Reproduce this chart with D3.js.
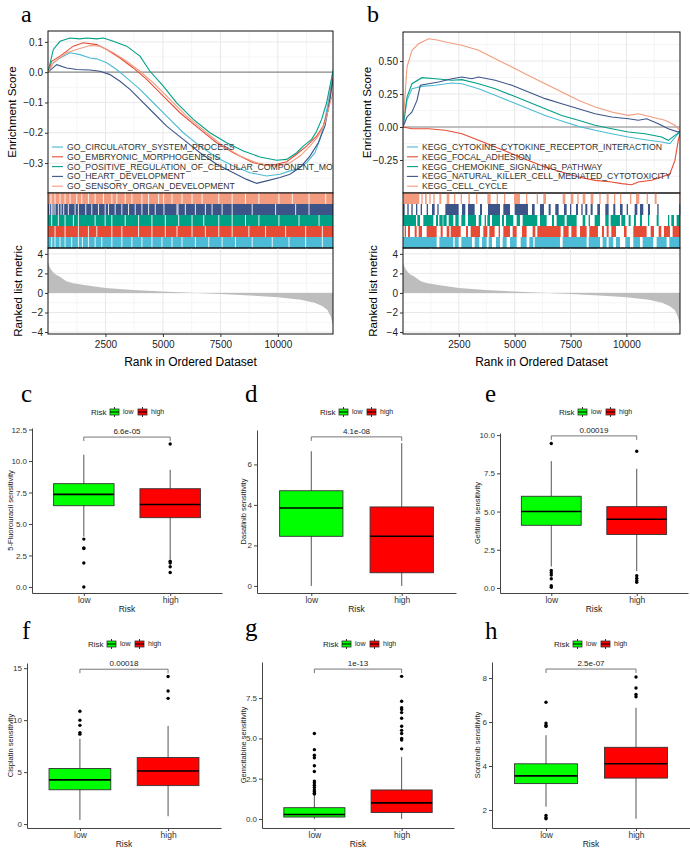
<!DOCTYPE html>
<html>
<head>
<meta charset="utf-8">
<script src="https://cdn.jsdelivr.net/npm/d3@7"></script>
<style>
body{margin:0;background:#fff;}
svg text{font-family:"Liberation Sans",Arial,sans-serif;}
svg text.tag{font-family:"Liberation Serif","Times New Roman",serif;}
</style>
</head>
<body>
<div id="chart"></div>
<script>
// ---------- data ----------
var maxRank = 12400;
var rankTicks = [2500, 5000, 7500, 10000];
var rankMinor = [1250, 3750, 6250, 8750, 11250];

// ranked list metric (rank, value)
var rankedMetric = [[0,3.1],[80,2.6],[160,2.3],[300,1.95],[520,1.65],[800,1.2],[1100,1.0],[1500,0.83],
  [2500,0.5],[3700,0.3],[5000,0.14],[6200,0.02],[7500,-0.1],[8800,-0.25],[10000,-0.44],[11000,-0.7],
  [11600,-1.0],[11950,-1.35],[12160,-1.75],[12300,-2.4],[12400,-3.3]];

var setColors = ["#4DBBD5", "#E64B35", "#00A087", "#3C5488", "#F39B7F"];

// panel a: GO gene sets
var goNames = ["GO_CIRCULATORY_SYSTEM_PROCESS", "GO_EMBRYONIC_MORPHOGENESIS",
  "GO_POSITIVE_REGULATION_OF_CELLULAR_COMPONENT_MOVEMENT", "GO_HEART_DEVELOPMENT",
  "GO_SENSORY_ORGAN_DEVELOPMENT"];
var goCirc = [[0,0],[232,0.031],[522,0.047],[957,0.064],[1392,0.058],[1827,0.047],[2117,0.044],[2552,0.031],
  [2987,0.009],[3422,-0.019],[4002,-0.057],[4582,-0.101],[5162,-0.145],[5887,-0.2],[6612,-0.244],[7337,-0.282],
  [8062,-0.31],[8787,-0.332],[9512,-0.343],[10092,-0.337],[10527,-0.326],[10817,-0.321],[11252,-0.299],
  [11615,-0.266],[11832,-0.222],[12050,-0.156],[12267,-0.068],[12400,0.009]];
var goEmbryo = [[0,0],[160,0.036],[522,0.053],[1102,0.086],[1537,0.097],[2117,0.091],[2552,0.075],[3132,0.047],
  [3712,0.014],[4292,-0.024],[5017,-0.079],[5742,-0.134],[6612,-0.189],[7337,-0.233],[8062,-0.266],[8932,-0.299],
  [9512,-0.307],[9947,-0.304],[10382,-0.296],[10817,-0.271],[11252,-0.244],[11687,-0.211],[11977,-0.178],
  [12195,-0.123],[12340,-0.046],[12400,-0.019]];
var goPosReg = [[0,0],[232,0.075],[522,0.102],[957,0.113],[1392,0.11],[1682,0.113],[2117,0.11],[2407,0.113],
  [2842,0.102],[3422,0.086],[4002,0.053],[4437,0.003],[5017,-0.046],[5597,-0.101],[6322,-0.156],[7047,-0.2],
  [7772,-0.233],[8497,-0.26],[9222,-0.28],[9947,-0.291],[10382,-0.288],[10817,-0.266],[11107,-0.244],
  [11470,-0.222],[11687,-0.195],[11905,-0.156],[12122,-0.101],[12267,-0.046],[12400,0.003]];
var goHeart = [[0,0],[377,0.025],[812,0.014],[1247,0.009],[1827,0.007],[2262,0.003],[2697,-0.008],[3132,-0.03],
  [3567,-0.057],[4002,-0.09],[4582,-0.134],[5162,-0.178],[5887,-0.222],[6612,-0.266],[7337,-0.304],[8062,-0.332],
  [8642,-0.354],[9077,-0.367],[9512,-0.359],[10092,-0.348],[10527,-0.337],[10962,-0.315],[11397,-0.277],
  [11760,-0.233],[12050,-0.178],[12267,-0.09],[12400,-0.024]];
var goSensory = [[0,0],[232,0.031],[812,0.064],[1247,0.075],[1827,0.088],[2262,0.086],[2842,0.064],[3422,0.036],
  [4002,0.003],[4582,-0.035],[5307,-0.09],[6032,-0.145],[6902,-0.2],[7627,-0.244],[8352,-0.277],[9077,-0.299],
  [9657,-0.31],[10092,-0.308],[10527,-0.299],[10962,-0.277],[11397,-0.244],[11760,-0.211],[12050,-0.167],
  [12238,-0.112],[12400,-0.068]];

// panel a barcodes: ranks where the (dense) hit band shows a gap
var goCircGaps = [160,305,523,742,1032,1323,1498,1759,2050,2341,2777,3213,3650,4086,4522,4958,5394,5831,6412,6994,7575,8157,8884,9757,10484,11210,11937];
var goEmbryoGaps = [305,742,1323,1759,2123,2777,3213,3940,4522,5104,5612,6267,6848,7430,8012,8739,9466,10338,11210,11937];
var goPosRegGaps = [160,451,742,1105,1323,2050,2486,2777,3359,3940,4522,5104,5685,6267,6776,7430,8012,8593,9175,10047,10920,11792];
var goHeartGaps = [73,160,218,305,451,567,683,887,1178,1323,1643,1905,2196,2486,2632,2923,3213,3504,3795,4086,4377,4667,5045,5612,5656,5976,6412,6848,7139,7575,8012,8884,9902,10774,11356];
var goSensoryGaps = [131,305,523,742,960,1250,1469,1759,2050,2414,2777,2995,3359,3650,4086,4377,4813,5031,5394,5831,6267,6703,7430,8012,8593,9175,10047,10629,11356,12083];

// panel b: KEGG gene sets
var keggNames = ["KEGG_CYTOKINE_CYTOKINE_RECEPTOR_INTERACTION", "KEGG_FOCAL_ADHESION",
  "KEGG_CHEMOKINE_SIGNALING_PATHWAY", "KEGG_NATURAL_KILLER_CELL_MEDIATED_CYTOTOXICITY", "KEGG_CELL_CYCLE"];
var keggCytokine = [[0,0],[179,0.202],[402,0.29],[849,0.308],[1445,0.316],[2190,0.333],[2637,0.328],[3382,0.29],
  [4127,0.24],[4872,0.189],[5617,0.139],[6362,0.088],[7107,0.045],[7852,0.005],[8597,-0.025],[9342,-0.051],
  [10087,-0.076],[10832,-0.096],[11577,-0.114],[11950,-0.126],[12248,-0.063],[12400,-0.038]];
var keggFocal = [[0,0],[402,-0.013],[1147,-0.013],[1892,-0.025],[2637,-0.051],[3382,-0.101],[4127,-0.152],
  [4872,-0.202],[5617,-0.253],[6362,-0.303],[7107,-0.341],[7852,-0.379],[8597,-0.404],[9342,-0.417],
  [9789,-0.429],[10236,-0.437],[10534,-0.417],[11130,-0.404],[11577,-0.379],[11950,-0.354],[12173,-0.253],
  [12322,-0.101],[12400,-0.051]];
var keggChemokine = [[0,0],[179,0.227],[402,0.328],[849,0.374],[1445,0.366],[2190,0.354],[2637,0.359],[3382,0.328],
  [4127,0.29],[4872,0.24],[5617,0.189],[6362,0.139],[7107,0.088],[7852,0.051],[8597,0.013],[9342,-0.013],
  [10087,-0.038],[10832,-0.051],[11577,-0.076],[11875,-0.101],[12173,-0.063],[12400,-0.038]];
var keggNK = [[0,0],[179,0.076],[402,0.114],[626,0.202],[775,0.316],[1147,0.328],[1594,0.341],[2190,0.366],
  [2637,0.379],[3084,0.366],[3382,0.379],[4127,0.354],[4872,0.316],[5617,0.265],[6362,0.215],[7107,0.177],
  [7852,0.139],[8597,0.101],[9342,0.076],[10087,0.063],[10534,0.051],[10907,0.063],[11428,0.025],
  [11875,-0.013],[12322,-0.038],[12400,-0.025]];
var keggCellCycle = [[0,0],[75,0.202],[179,0.455],[402,0.581],[700,0.631],[1147,0.669],[1594,0.657],[1892,0.644],
  [2637,0.619],[3382,0.581],[4127,0.518],[4872,0.455],[5617,0.391],[6362,0.328],[7107,0.265],[7852,0.202],
  [8597,0.152],[9342,0.114],[10087,0.088],[10534,0.101],[11130,0.076],[11726,0.051],[12173,0.013],[12400,-0.025]];

// panel b barcodes: runs of hits [from, to] in rank
var keggCytokineHits = [[0,1507],[1626,2253],[2313,2492],[2611,3088],[3208,3417],[3536,3745],[3834,3984],[4163,4342],
  [4461,4640],[4789,5088],[5267,5535],[5655,5834],[5893,7027],[7147,8221],[8310,8818],[8937,9116],[9206,9414],
  [9534,9713],[9951,10160],[10310,10608],[10728,11205],[11354,11802],[11921,12400]];
var keggFocalHits = [[75,134],[224,313],[522,612],[701,850],[1059,1507],[1686,1776],[1955,2074],[2134,2581],
  [2820,2909],[3029,3447],[3596,3775],[3864,4103],[4282,4342],[4491,4789],[4909,5088],[5326,5535],[5804,5923],
  [6013,7057],[7177,7415],[7535,7773],[7922,8221],[8340,8728],[8907,8997],[9116,9206],[9325,9534],[9892,10011],
  [10310,10907],[11086,11235],[11444,11563],[11682,11951],[12070,12400]];
var keggChemokineHits = [[0,582],[642,761],[910,1358],[1477,1567],[1626,1776],[1805,1955],[2044,2253],[2342,2492],
  [2611,2790],[2909,3267],[3387,3506],[3655,3715],[3775,3894],[3984,4342],[4431,4521],[4610,4939],[5088,5237],
  [5356,6013],[6132,6431],[6669,6759],[6878,7236],[7326,7773],[8042,8161],[8310,8370],[8579,8818],[9056,9206],
  [9295,9713],[9772,9951],[10101,10190],[10339,10429],[10608,10698],[10966,11026],[11354,11444],[11861,11921],
  [12011,12130],[12250,12400]];
var keggNKHits = [[0,75],[194,254],[373,433],[582,642],[791,850],[1059,1119],[1298,1417],[1537,1596],[1895,2492],
  [2641,2790],[2909,3208],[3447,3536],[3805,4342],[4491,4789],[4998,5595],[5774,5893],[6132,6311],[6520,6610],
  [6818,6968],[7206,7326],[7475,7535],[7743,7833],[7982,8042],[8161,8251],[8400,8490],[8698,8818],[9056,9206],
  [9414,9504],[9713,9832],[10011,10071],[10369,10489],[10608,10757],[10966,11056],[11384,11444],[12369,12400]];
var keggCellCycleHits = [[0,731],[821,880],[985,1059],[1179,1238],[1358,1417],[1626,1716],[1955,2074],[2283,2342],
  [2581,2641],[2924,2999],[3267,3327],[3775,3924],[4193,4252],[4521,4580],[4968,5237],[5506,5565],[5983,6043],
  [6281,6401],[7147,7266],[7505,7624],[7803,7863],[8042,8161],[8400,8519],[8788,8848],[9116,9206],[9444,9504],
  [9713,9772],[10160,10220],[10429,10578],[10906,10966],[11265,11354],[12369,12400]];

// drug sensitivity boxplots: [lower whisker, Q1, median, Q3, upper whisker]
var riskGroups = ["low", "high"];
var riskColors = ["#00FF00", "#FF0000"];
var drugNames = ["5-Fluorouracil", "Dasatinib", "Gefitinib", "Cisplatin", "Gemcitabine", "Sorafenib"];
var pValues = ["6.6e-05", "4.1e-08", "0.00019", "0.00018", "1e-13", "2.5e-07"];
var bracketY = [11.9, 7.36, 9.95, 14.9, 9.3, 8.41];
var lowStats = [[4.0,6.45,7.35,8.2,10.5],[0,2.45,3.85,4.7,6.65],[1.4,4.1,5.0,6.0,8.3],
  [0.4,3.3,4.25,5.35,8.2],[0,0.12,0.28,0.7,1.45],[2.15,3.2,3.55,4.1,5.4]];
var highStats = [[2.2,5.5,6.55,7.8,9.3],[0,0.65,2.45,3.9,7.05],[1.1,3.5,4.5,5.32,7.8],
  [0.75,3.7,5.1,6.4,9.45],[0,0.4,1.0,1.8,3.85],[1.6,3.45,4.1,4.85,6.65]];
var lowOutliers = [[3.8,3.1,3.05,1.9,0],[],[9.45,1.15,1.0,0.85,0.6,0.15,0.05],
  [10.85,10.0,9.5,8.8,8.65],[5.3,4.3,3.95,3.8,3.3,2.95,2.35,2.25,2.1,1.95,1.8,1.7,1.6,1.55],
  [6.9,5.95,5.85,5.8,1.75,1.65,1.6]];
var highOutliers = [[11.35,2.05,1.9,1.6,1.15],[],[8.95,0.8,0.63,0.48,0.37],[14.2,12.8,12.1],
  [8.85,7.3,6.9,6.8,6.6,6.25,5.75,5.5,5.3,5.0,4.9,4.35],[8.05,7.55,7.25,7.15]];
var yTicks = [[0,2.5,5,7.5,10,12.5],[0,2,4,6],[0,2.5,5,7.5,10],[0,5,10,15],[0,2.5,5,7.5],[2,4,6,8]];
var yDomains = [[-0.48,12.62],[-0.35,7.7],[-0.33,10.14],[-0.38,15.5],[-0.56,9.74],[1.18,8.73]];

// ---------- drawing ----------
var svg = d3.select("#chart").append("svg").attr("width", 690).attr("height", 848);

function grid(g, x, y, xv, yv, col, w) {
  g.selectAll(null).data(xv).enter().append("line")
    .attr("x1", function(d){return x(d);}).attr("x2", function(d){return x(d);})
    .attr("y1", y.range()[0]).attr("y2", y.range()[1])
    .attr("stroke", col).attr("stroke-width", w);
  g.selectAll(null).data(yv).enter().append("line")
    .attr("y1", function(d){return y(d);}).attr("y2", function(d){return y(d);})
    .attr("x1", x.range()[0]).attr("x2", x.range()[1])
    .attr("stroke", col).attr("stroke-width", w);
}

function styleAxis(a, size) {
  a.select(".domain").remove();
  a.selectAll("line").attr("stroke", "#333");
  a.selectAll("text").attr("fill", "#222").attr("font-size", size);
}

function gsea(o) {
  var g = svg.append("g");
  var x = d3.scaleLinear().domain([0, maxRank]).range([o.x0, o.x1]);
  var yE = d3.scaleLinear().domain(o.esDomain).range([o.esBot, o.top]);
  var yR = d3.scaleLinear().domain([-4.2, 4.6]).range([o.rankBot, o.barBot]);

  // ES panel
  grid(g, x, yE, rankMinor, o.esMinor, "#f3f3f3", 0.8);
  grid(g, x, yE, rankTicks, o.esTicks, "#e8e8e8", 1);
  g.append("line").attr("x1", o.x0).attr("x2", o.x1).attr("y1", yE(0)).attr("y2", yE(0))
    .attr("stroke", "#8c8c8c").attr("stroke-width", 1.2);

  var clipId = "clip" + o.id;
  svg.append("clipPath").attr("id", clipId).append("rect")
    .attr("x", o.x0).attr("y", o.top).attr("width", o.x1 - o.x0).attr("height", o.esBot - o.top);
  var cg = g.append("g").attr("clip-path", "url(#" + clipId + ")");
  var line = d3.line().x(function(d){return x(d[0]);}).y(function(d){return yE(d[1]);});
  o.curves.forEach(function(c, i) {
    cg.append("path").attr("d", line(c)).attr("fill", "none")
      .attr("stroke", setColors[i]).attr("stroke-width", 1.1);
  });
  // legend
  o.names.forEach(function(n, i) {
    var ly = o.legY + i * 9.8;
    cg.append("line").attr("x1", o.legX).attr("x2", o.legX + 11).attr("y1", ly).attr("y2", ly)
      .attr("stroke", setColors[i]).attr("stroke-width", 1.1);
    cg.append("text").attr("x", o.legX + 15).attr("y", ly).attr("dy", "0.35em")
      .attr("font-size", 8.7).attr("fill", "#333").text(n);
  });
  g.append("rect").attr("x", o.x0).attr("y", o.top).attr("width", o.x1 - o.x0).attr("height", o.esBot - o.top)
    .attr("fill", "none").attr("stroke", "#111").attr("stroke-width", 1);

  // barcode rows (last set on top)
  var rowH = (o.barBot - o.esBot) / 5;
  o.bars.forEach(function(b, i) {
    var ry = o.esBot + (4 - i) * rowH;
    if (o.barMode === "gaps") {
      g.append("rect").attr("x", o.x0).attr("y", ry).attr("width", o.x1 - o.x0).attr("height", rowH)
        .attr("fill", setColors[i]);
      g.selectAll(null).data(b).enter().append("rect")
        .attr("x", function(d){return x(d) - 0.5;}).attr("y", ry).attr("width", 1).attr("height", rowH)
        .attr("fill", "#fff").attr("opacity", 0.85);
    } else {
      g.selectAll(null).data(b).enter().append("rect")
        .attr("x", function(d){return x(d[0]);}).attr("y", ry)
        .attr("width", function(d){return Math.max(1, x(d[1]) - x(d[0]));}).attr("height", rowH)
        .attr("fill", setColors[i]);
    }
  });
  g.append("rect").attr("x", o.x0).attr("y", o.esBot).attr("width", o.x1 - o.x0).attr("height", o.barBot - o.esBot)
    .attr("fill", "none").attr("stroke", "#111").attr("stroke-width", 1);

  // ranked list metric
  grid(g, x, yR, rankMinor, [-3, -1, 1, 3], "#f3f3f3", 0.8);
  grid(g, x, yR, rankTicks, [-4, -2, 0, 2, 4], "#e8e8e8", 1);
  var area = d3.area().x(function(d){return x(d[0]);}).y0(yR(0)).y1(function(d){return yR(d[1]);});
  g.append("path").attr("d", area(rankedMetric)).attr("fill", "#bdbdbd");
  g.append("rect").attr("x", o.x0).attr("y", o.barBot).attr("width", o.x1 - o.x0).attr("height", o.rankBot - o.barBot)
    .attr("fill", "none").attr("stroke", "#111").attr("stroke-width", 1);

  // axes
  var ay = g.append("g").attr("transform", "translate(" + o.x0 + ",0)")
    .call(d3.axisLeft(yE).tickValues(o.esTicks).tickFormat(o.esFmt).tickSize(3).tickPadding(2));
  styleAxis(ay, 10);
  var ar = g.append("g").attr("transform", "translate(" + o.x0 + ",0)")
    .call(d3.axisLeft(yR).tickValues([-4, -2, 0, 2, 4]).tickFormat(d3.format("d")).tickSize(3).tickPadding(2));
  styleAxis(ar, 10);
  var ax = g.append("g").attr("transform", "translate(0," + o.rankBot + ")")
    .call(d3.axisBottom(x).tickValues(rankTicks).tickFormat(d3.format("d")).tickSize(3).tickPadding(4));
  styleAxis(ax, 10);

  g.append("text").attr("transform", "translate(" + (o.x0 - 36) + "," + ((o.top + o.esBot) / 2) + ") rotate(-90)")
    .attr("text-anchor", "middle").attr("dy", "0.35em").attr("font-size", 11.5).text("Enrichment Score");
  g.append("text").attr("transform", "translate(" + (o.x0 - 30.5) + "," + ((o.barBot + o.rankBot) / 2) + ") rotate(-90)")
    .attr("text-anchor", "middle").attr("dy", "0.35em").attr("font-size", 11.5).text("Ranked list metric");
  g.append("text").attr("x", (o.x0 + o.x1) / 2).attr("y", o.rankBot + 32)
    .attr("text-anchor", "middle").attr("font-size", 12).text("Rank in Ordered Dataset");
  g.append("text").attr("class", "tag").attr("x", o.tagX).attr("y", 22).attr("font-size", 24).text(o.tag);
}

gsea({id: "a", tag: "a", tagX: 21, x0: 48, x1: 333, top: 31, esBot: 193, barBot: 248, rankBot: 334,
  esDomain: [-0.399, 0.136], esTicks: [-0.3, -0.2, -0.1, 0, 0.1], esMinor: [-0.35, -0.25, -0.15, -0.05, 0.05],
  esFmt: d3.format(".1f"), names: goNames,
  curves: [goCirc, goEmbryo, goPosReg, goHeart, goSensory],
  bars: [goCircGaps, goEmbryoGaps, goPosRegGaps, goHeartGaps, goSensoryGaps], barMode: "gaps",
  legX: 52, legY: 147});

gsea({id: "b", tag: "b", tagX: 367, x0: 403, x1: 680, top: 32, esBot: 193, barBot: 248, rankBot: 334,
  esDomain: [-0.5, 0.72], esTicks: [-0.25, 0, 0.25, 0.5], esMinor: [-0.375, -0.125, 0.125, 0.375, 0.625],
  esFmt: d3.format(".2f"), names: keggNames,
  curves: [keggCytokine, keggFocal, keggChemokine, keggNK, keggCellCycle],
  bars: [keggCytokineHits, keggFocalHits, keggChemokineHits, keggNKHits, keggCellCycleHits], barMode: "runs",
  legX: 407, legY: 147});

// boxplot panels layout
var boxLayout = [
  {tag: "c", tagX: 21, tagY: 402, ax: 32, right: 222, top: 428, bottom: 593, titleX: 10, legX: 91, legY: 412, fmt: ".1f"},
  {tag: "d", tagX: 245, tagY: 402, ax: 257, right: 456, top: 430, bottom: 593, titleX: 243, legX: 320, legY: 412, fmt: "d"},
  {tag: "e", tagX: 485, tagY: 402, ax: 500, right: 688, top: 433, bottom: 593, titleX: 477, legX: 559, legY: 412, fmt: ".1f"},
  {tag: "f", tagX: 22, tagY: 639, ax: 27, right: 221, top: 663, bottom: 828, titleX: 10, legX: 88, legY: 644, fmt: "d"},
  {tag: "g", tagX: 245, tagY: 636, ax: 262, right: 454, top: 662, bottom: 828, titleX: 243, legX: 323, legY: 644, fmt: ".1f"},
  {tag: "h", tagX: 485, tagY: 639, ax: 492, right: 690, top: 662, bottom: 828, titleX: 477, legX: 554, legY: 644, fmt: "d"}
];

function boxPanel(k) {
  var L = boxLayout[k];
  var g = svg.append("g");
  var x = d3.scaleLinear().domain([0.4, 2.6]).range([L.ax, L.right]);
  var y = d3.scaleLinear().domain(yDomains[k]).range([L.bottom, L.top]);
  var groups = [
    {pos: 1, st: lowStats[k], out: lowOutliers[k], fill: riskColors[0]},
    {pos: 2, st: highStats[k], out: highOutliers[k], fill: riskColors[1]}
  ];
  groups.forEach(function(d) {
    g.append("line").attr("x1", x(d.pos)).attr("x2", x(d.pos)).attr("y1", y(d.st[0])).attr("y2", y(d.st[4]))
      .attr("stroke", "#555").attr("stroke-width", 1);
    g.append("rect").attr("x", x(d.pos - 0.35)).attr("width", x(d.pos + 0.35) - x(d.pos - 0.35))
      .attr("y", y(d.st[3])).attr("height", y(d.st[1]) - y(d.st[3]))
      .attr("fill", d.fill).attr("stroke", "#333").attr("stroke-width", 0.9);
    g.append("line").attr("x1", x(d.pos - 0.35)).attr("x2", x(d.pos + 0.35)).attr("y1", y(d.st[2])).attr("y2", y(d.st[2]))
      .attr("stroke", "#000").attr("stroke-width", 1.6);
    g.selectAll(null).data(d.out).enter().append("circle")
      .attr("cx", x(d.pos)).attr("cy", function(v){return y(v);}).attr("r", 1.7).attr("fill", "#000");
  });

  // p-value bracket
  var by = y(bracketY[k]);
  g.append("path").attr("d", "M" + x(1) + "," + (by + 4) + "V" + by + "H" + x(2) + "V" + (by + 4))
    .attr("fill", "none").attr("stroke", "#666").attr("stroke-width", 0.9);
  g.append("text").attr("x", (x(1) + x(2)) / 2).attr("y", by - 3).attr("text-anchor", "middle")
    .attr("font-size", 8).attr("fill", "#222").text(pValues[k]);

  // axes
  var ay = g.append("g").attr("transform", "translate(" + L.ax + ",0)")
    .call(d3.axisLeft(y).tickValues(yTicks[k]).tickFormat(d3.format(L.fmt)).tickSize(3).tickSizeOuter(0).tickPadding(2));
  ay.select(".domain").attr("stroke", "#444");
  ay.selectAll("line").attr("stroke", "#444");
  ay.selectAll("text").attr("fill", "#333").attr("font-size", 8);
  var axb = g.append("g").attr("transform", "translate(0," + L.bottom + ")")
    .call(d3.axisBottom(x).tickValues([1, 2]).tickFormat(function(d){return riskGroups[d - 1];})
      .tickSize(3).tickSizeOuter(0).tickPadding(1));
  axb.select(".domain").attr("stroke", "#444");
  axb.selectAll("line").attr("stroke", "#444");
  axb.selectAll("text").attr("fill", "#333").attr("font-size", 8.5);

  g.append("text").attr("x", (L.ax + L.right) / 2).attr("y", L.bottom + 19).attr("text-anchor", "middle")
    .attr("font-size", 8.5).attr("fill", "#222").text("Risk");
  g.append("text").attr("transform", "translate(" + L.titleX + "," + ((L.top + L.bottom) / 2) + ") rotate(-90)")
    .attr("text-anchor", "middle").attr("dy", "0.35em").attr("font-size", 7.5).attr("fill", "#222")
    .text(drugNames[k] + " sensitivity");

  // legend
  var lg = g.append("g").attr("transform", "translate(" + L.legX + "," + L.legY + ")");
  lg.append("text").attr("x", 0).attr("dy", "0.35em").attr("font-size", 8).attr("fill", "#222").text("Risk");
  riskGroups.forEach(function(r, i) {
    var kx = 19 + i * 28;
    lg.append("line").attr("x1", kx + 4.5).attr("x2", kx + 4.5).attr("y1", -5).attr("y2", 5).attr("stroke", "#333");
    lg.append("rect").attr("x", kx).attr("y", -3).attr("width", 9).attr("height", 6)
      .attr("fill", riskColors[i]).attr("stroke", "#333").attr("stroke-width", 0.8);
    lg.append("line").attr("x1", kx).attr("x2", kx + 9).attr("y1", 0).attr("y2", 0).attr("stroke", "#000");
    lg.append("text").attr("x", kx + 13).attr("dy", "0.35em").attr("font-size", 7).attr("fill", "#222").text(r);
  });

  g.append("text").attr("class", "tag").attr("x", L.tagX).attr("y", L.tagY).attr("font-size", 25).text(L.tag);
}

for (var k = 0; k < 6; k++) boxPanel(k);
</script>
</body>
</html>
